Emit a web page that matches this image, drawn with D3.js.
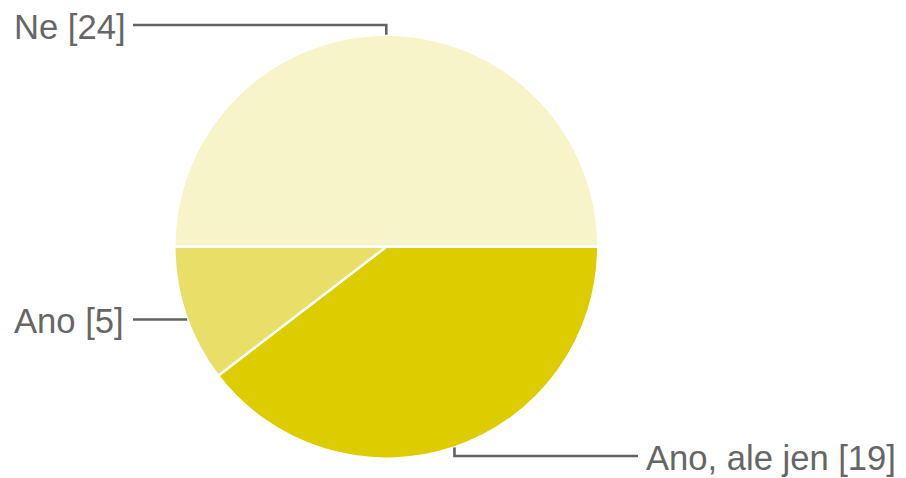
<!DOCTYPE html>
<html><head><meta charset="utf-8">
<script src="https://cdn.jsdelivr.net/npm/d3@7"></script>
<style>html,body{margin:0;padding:0;background:#fff;}svg{display:block;}</style>
</head><body>
<svg id="chart" width="906" height="478"></svg>
<script>
const categories = ["Ne", "Ano, ale jen", "Ano"];
const values = [24, 19, 5];
const colors = ["#f7f4c9", "#dccc00", "#e9df68"];

const W = 906, H = 478;
const cx = 386.3, cy = 246.7, r = 212;
// label layout per slice: line y and side
const labelY = [25, 456, 319.5];
const labelSide = ["left", "right", "left"];

const svg = d3.select("#chart");
const g = svg.append("g").attr("transform", `translate(${cx},${cy})`);

const pie = d3.pie().sort(null).value(d => d.v)
  .startAngle(-Math.PI / 2).endAngle(3 * Math.PI / 2);
const data = categories.map((c, i) => ({c, v: values[i], col: colors[i], ly: labelY[i], side: labelSide[i]}));
const arcs = pie(data);
const arc = d3.arc().innerRadius(0).outerRadius(r);

g.selectAll("path.slice").data(arcs).enter().append("path")
  .attr("class", "slice")
  .attr("d", arc)
  .attr("fill", d => d.data.col)
  .attr("stroke", "#fff")
  .attr("stroke-width", 2.5)
  .attr("stroke-linejoin", "round");

const lineColor = "#636363";
const textColor = "#666";
const fs = 34.6;

arcs.forEach(a => {
  const mid = (a.startAngle + a.endAngle) / 2;
  const px = Math.sin(mid) * r, py = -Math.cos(mid) * r;
  const ly = a.data.ly - cy;
  const left = a.data.side === "left";
  let pts;
  if (left && Math.abs(Math.sin(mid)) > 0.9) {
    const hx = -Math.sqrt(r * r - ly * ly);
    pts = [[hx, ly], [133 - cx, ly]];
  } else if (left) {
    pts = [[px, py], [px, ly], [133 - cx, ly]];
  } else {
    pts = [[px, py], [px, ly], [638 - cx, ly]];
  }
  g.append("path")
    .attr("d", d3.line()(pts))
    .attr("fill", "none")
    .attr("stroke", lineColor)
    .attr("stroke-width", 2.6);
  const label = `${a.data.c} [${a.data.v}]`;
  svg.append("text")
    .attr("x", left ? 14 : 646)
    .attr("y", a.data.ly + 13.5)
    .attr("font-family", "Liberation Sans, Arial, sans-serif")
    .attr("font-size", fs)
    .attr("fill", textColor)
    .text(label);
});
</script>
</body></html>
